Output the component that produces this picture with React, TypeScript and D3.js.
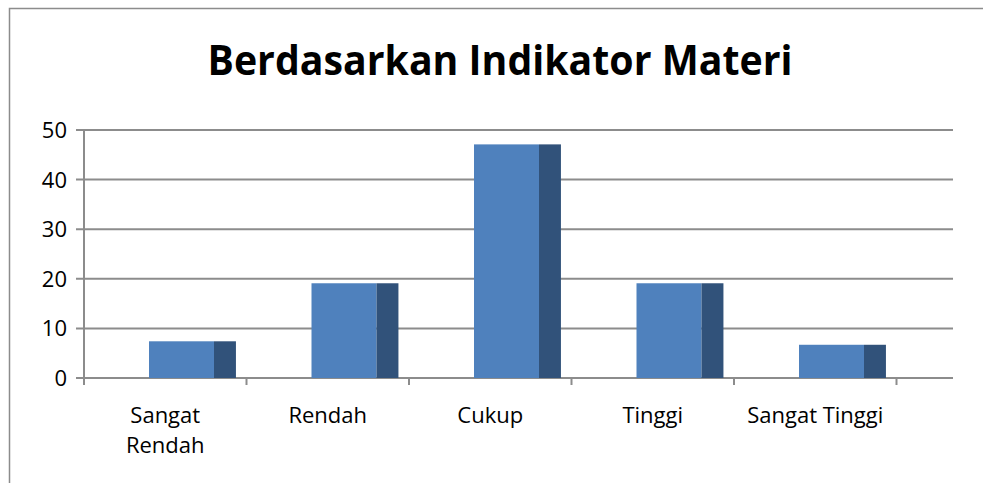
import React, { useRef, useEffect } from "react";
import * as d3 from "d3";

const categories: string[][] = [
  ["Sangat", "Rendah"],
  ["Rendah"],
  ["Cukup"],
  ["Tinggi"],
  ["Sangat Tinggi"],
];
const values: number[] = [7.4, 19.1, 47.1, 19.1, 6.7];
const yTicks: number[] = [0, 10, 20, 30, 40, 50];
const title = "Berdasarkan Indikator Materi";

const App: React.FC = () => {
  const svgRef = useRef<SVGSVGElement>(null);

  useEffect(() => {
    if (!svgRef.current) return;
    const width = 983;
    const height = 483;
    const plot = { left: 84, right: 896.5, top: 130, bottom: 378, wallRight: 953 };
    const font = "'Open Sans', Lato, sans-serif";

    const svg = d3.select(svgRef.current).attr("width", width).attr("height", height);
    svg.selectAll("*").remove();

    svg.append("rect").attr("width", width).attr("height", height).attr("fill", "#fff");

    // 外枠
    svg
      .append("path")
      .attr("d", `M9.5,${height} V8.5 H${width}`)
      .attr("fill", "none")
      .attr("stroke", "#8c8c8c")
      .attr("stroke-width", 1.5);

    svg
      .append("text")
      .attr("x", 500)
      .attr("y", 75)
      .attr("text-anchor", "middle")
      .attr("font-family", font)
      .attr("font-weight", "bold")
      .attr("font-size", 42)
      .attr("textLength", 585)
      .attr("lengthAdjust", "spacingAndGlyphs")
      .attr("fill", "#000")
      .text(title);

    const x = d3
      .scaleBand<number>()
      .domain(d3.range(categories.length))
      .range([plot.left, plot.right]);

    const y = d3.scaleLinear().domain([0, 50]).range([plot.bottom, plot.top]);

    // グリッド線
    svg
      .append("g")
      .selectAll("line")
      .data(yTicks)
      .enter()
      .append("line")
      .attr("x1", plot.left - 8)
      .attr("x2", plot.wallRight)
      .attr("y1", (d) => y(d))
      .attr("y2", (d) => y(d))
      .attr("stroke", "#8c8c8c")
      .attr("stroke-width", 2);

    // Y軸
    svg
      .append("line")
      .attr("x1", plot.left)
      .attr("x2", plot.left)
      .attr("y1", plot.top)
      .attr("y2", plot.bottom + 2)
      .attr("stroke", "#8c8c8c")
      .attr("stroke-width", 2);

    svg
      .append("g")
      .selectAll("text")
      .data(yTicks)
      .enter()
      .append("text")
      .attr("x", 67)
      .attr("y", (d) => y(d) + 8)
      .attr("text-anchor", "end")
      .attr("font-family", font)
      .attr("font-size", 22)
      .attr("fill", "#000")
      .text((d) => d);

    // X軸の目盛り
    const bounds = d3.range(categories.length + 1).map((i) =>
      i < categories.length ? (x(i) as number) : plot.right
    );
    svg
      .append("g")
      .selectAll("line")
      .data(bounds)
      .enter()
      .append("line")
      .attr("x1", (d) => d)
      .attr("x2", (d) => d)
      .attr("y1", plot.bottom)
      .attr("y2", plot.bottom + 7)
      .attr("stroke", "#8c8c8c")
      .attr("stroke-width", 2);

    // バー（正面と側面）
    const bw = x.bandwidth();
    const frontOffset = bw * 0.4;
    const frontWidth = bw * 0.4;
    const sideWidth = bw * 0.135;
    const bars = svg.append("g").selectAll("g").data(values).enter().append("g");
    bars
      .append("rect")
      .attr("x", (_, i) => (x(i) as number) + frontOffset)
      .attr("y", (d) => y(d))
      .attr("width", frontWidth)
      .attr("height", (d) => plot.bottom - y(d))
      .attr("fill", "#4f81bd");
    bars
      .append("rect")
      .attr("x", (_, i) => (x(i) as number) + frontOffset + frontWidth)
      .attr("y", (d) => y(d))
      .attr("width", sideWidth)
      .attr("height", (d) => plot.bottom - y(d))
      .attr("fill", "#31527a");

    // カテゴリラベル
    const labels = svg
      .append("g")
      .selectAll("text")
      .data(categories)
      .enter()
      .append("text")
      .attr("x", (_, i) => (x(i) as number) + bw / 2)
      .attr("y", 423)
      .attr("text-anchor", "middle")
      .attr("font-family", font)
      .attr("font-size", 22)
      .attr("fill", "#000");
    labels
      .selectAll("tspan")
      .data((d) => d)
      .enter()
      .append("tspan")
      .attr("x", function () {
        return (this.parentNode as SVGTextElement).getAttribute("x");
      })
      .attr("dy", (_, j) => (j === 0 ? 0 : 30))
      .text((d) => d);
  }, []);

  return (
    <svg
      ref={svgRef}
      style={{ position: "fixed", left: 0, top: 0, display: "block" }}
    ></svg>
  );
};

export default App;
